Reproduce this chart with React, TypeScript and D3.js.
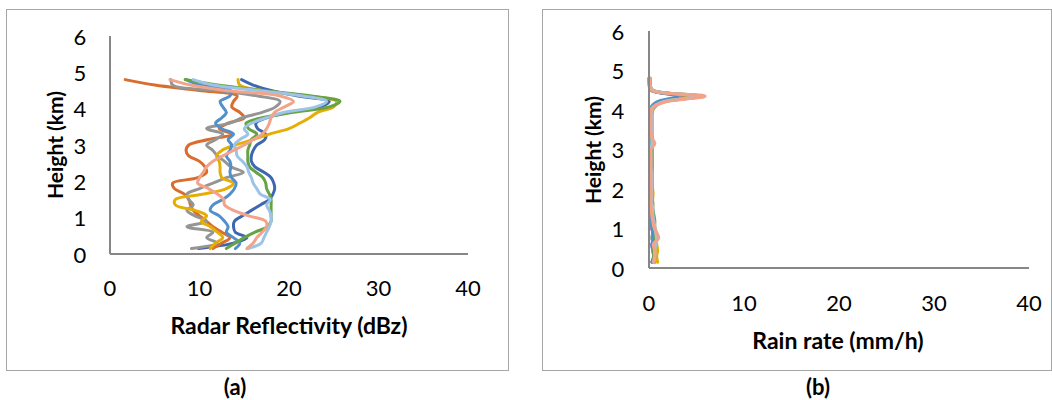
import React from "react";
import * as d3 from "d3";

// Heights (km) shared by all profiles
const heights = [0.15, 0.3, 0.45, 0.6, 0.75, 0.9, 1.05, 1.2, 1.35, 1.5, 1.65, 1.8, 1.95, 2.1, 2.25, 2.4, 2.55, 2.7, 2.85, 3.0, 3.15, 3.3, 3.45, 3.6, 3.75, 3.9, 4.05, 4.2, 4.35, 4.5, 4.65, 4.8];

// Panel (a): radar reflectivity (dBZ)
const zDarkBlue = [9.9, 13.8, 15.3, 14.0, 13.8, 13.9, 14.8, 15.8, 16.8, 17.8, 18.2, 18.4, 18.3, 18.0, 17.2, 16.2, 15.8, 15.8, 16.0, 16.4, 17.3, 17.4, 16.5, 16.3, 17.5, 20.0, 23.5, 24.5, 21.0, 18.0, 16.0, 14.7];
const zOrange = [11.5, 12.5, 13.4, 12.5, 11.5, 10.8, 10.0, 9.3, 9.0, 8.8, 8.3, 7.2, 7.0, 9.8, 10.8, 10.6, 10.0, 8.8, 8.5, 8.8, 11.0, 13.6, 12.2, 13.2, 15.0, 14.5, 13.6, 13.8, 14.2, 10.0, 5.0, 1.7];
const zGray = [9.1, 12.0, 10.8, 11.5, 8.6, 10.8, 9.5, 8.6, 9.3, 8.8, 8.6, 10.0, 11.5, 13.0, 14.9, 13.5, 12.8, 12.0, 11.5, 10.8, 11.8, 12.6, 10.8, 13.4, 14.8, 17.0, 18.5, 19.0, 16.5, 12.0, 7.0, 6.8];
const zGold = [11.2, 11.8, 12.6, 12.0, 11.2, 10.2, 10.8, 9.5, 7.3, 7.3, 10.5, 13.0, 13.8, 12.5, 12.3, 12.3, 12.2, 11.9, 12.5, 14.0, 16.0, 17.8, 20.0, 21.2, 22.3, 23.2, 25.0, 25.3, 22.0, 17.0, 14.5, 14.3];
const zMedBlue = [14.0, 14.5, 13.8, 13.0, 13.2, 12.8, 12.2, 11.2, 11.5, 12.6, 13.4, 13.9, 14.1, 13.6, 13.4, 13.5, 13.4, 13.0, 13.4, 13.6, 13.2, 13.8, 12.5, 11.8, 12.5, 13.0, 12.6, 12.3, 13.4, 13.5, 10.0, 8.5];
const zGreen = [13.0, 14.0, 15.0, 16.2, 17.6, 18.0, 18.0, 18.0, 18.0, 18.0, 17.8, 17.5, 17.4, 17.1, 16.3, 15.6, 15.4, 15.4, 15.4, 15.6, 15.8, 16.4, 15.5, 15.2, 17.0, 20.5, 24.5, 25.7, 22.5, 17.0, 12.0, 8.4];
const zLightBlue = [15.4, 16.9, 17.2, 17.5, 17.8, 18.0, 18.0, 17.8, 17.5, 17.9, 16.8, 16.4, 16.0, 15.8, 15.5, 15.3, 14.8, 14.2, 14.1, 13.9, 14.5, 15.4, 15.0, 15.8, 17.5, 19.5, 23.0, 24.2, 21.5, 16.5, 11.5, 9.3];
const zSalmon = [15.3, 16.0, 16.4, 17.0, 17.5, 17.4, 15.5, 13.8, 12.8, 12.7, 12.0, 11.0, 9.8, 10.0, 10.4, 10.8, 11.5, 12.6, 13.8, 15.0, 16.0, 17.0, 17.5, 17.8, 18.0, 18.4, 19.5, 20.5, 19.0, 13.0, 9.0, 6.7];

// Panel (b): rain rate (mm/h)
const rDarkBlue = [0.3, 0.5, 0.4, 0.3, 0.5, 0.4, 0.3, 0.3, 0.2, 0.2, 0.2, 0.1, 0.1, 0.1, 0.1, 0.1, 0.1, 0.1, 0.1, 0.2, 0.2, 0.3, 0.2, 0.2, 0.1, 0.2, 0.2, 1.2, 4.6, 0.3, 0.1, 0.1];
const rOrange = [0.6, 0.6, 0.7, 0.5, 0.6, 0.4, 0.3, 0.3, 0.2, 0.2, 0.2, 0.2, 0.2, 0.2, 0.2, 0.2, 0.2, 0.2, 0.1, 0.1, 0.2, 0.2, 0.2, 0.2, 0.2, 0.2, 0.5, 1.3, 4.4, 0.3, 0.1, 0.0];
const rGray = [0.4, 0.5, 0.4, 0.5, 0.3, 0.4, 0.3, 0.2, 0.2, 0.2, 0.2, 0.2, 0.2, 0.2, 0.3, 0.2, 0.2, 0.2, 0.2, 0.1, 0.2, 0.2, 0.1, 0.2, 0.2, 0.3, 0.4, 1.0, 3.4, 0.2, 0.0, 0.0];
const rGold = [0.9, 0.8, 0.9, 0.8, 0.7, 0.5, 0.5, 0.4, 0.2, 0.2, 0.3, 0.4, 0.4, 0.3, 0.3, 0.3, 0.3, 0.3, 0.3, 0.3, 0.4, 0.3, 0.3, 0.3, 0.3, 0.3, 0.5, 1.4, 5.0, 0.3, 0.1, 0.1];
const rMedBlue = [0.5, 0.6, 0.5, 0.4, 0.4, 0.4, 0.3, 0.3, 0.3, 0.3, 0.3, 0.3, 0.3, 0.3, 0.3, 0.3, 0.3, 0.3, 0.3, 0.3, 0.3, 0.3, 0.2, 0.2, 0.2, 0.2, 0.2, 0.8, 3.0, 0.3, 0.1, 0.1];
const rGreen = [0.4, 0.5, 0.5, 0.6, 0.7, 0.7, 0.6, 0.6, 0.5, 0.4, 0.4, 0.3, 0.3, 0.3, 0.3, 0.3, 0.3, 0.3, 0.3, 0.3, 0.3, 0.3, 0.3, 0.3, 0.3, 0.3, 0.4, 1.4, 5.4, 0.4, 0.1, 0.1];
const rLightBlue = [0.5, 0.6, 0.6, 0.7, 0.8, 0.7, 0.6, 0.5, 0.4, 0.4, 0.3, 0.3, 0.3, 0.3, 0.3, 0.3, 0.2, 0.2, 0.2, 0.2, 0.3, 0.3, 0.3, 0.3, 0.3, 0.3, 0.4, 1.4, 5.3, 0.4, 0.1, 0.1];
const rSalmon = [0.5, 0.6, 0.6, 0.45, 1.0, 0.8, 0.5, 0.4, 0.3, 0.25, 0.2, 0.2, 0.2, 0.2, 0.2, 0.2, 0.2, 0.2, 0.2, 0.2, 0.6, 0.3, 0.2, 0.2, 0.2, 0.2, 0.3, 1.6, 5.9, 0.3, 0.1, 0.1];

const seriesColors = ["#3F67B1", "#DA6C2C", "#959595", "#E6AE05", "#5290CC", "#66A342", "#9DC3E6", "#F2A48A"];
const reflectivitySeries = [zDarkBlue, zOrange, zGray, zGold, zMedBlue, zGreen, zLightBlue, zSalmon];
const rainSeries = [rDarkBlue, rOrange, rGray, rGold, rMedBlue, rGreen, rLightBlue, rSalmon];

const xTicks = [0, 10, 20, 30, 40];
const yTicks = [0, 1, 2, 3, 4, 5, 6];

const FONT = "Lato, 'Open Sans', sans-serif";

type PanelProps = {
  box: [number, number, number, number];
  plot: { x0: number; x1: number; y0: number; y1: number };
  series: number[][];
  xTitle: string;
  xTitlePos: [number, number];
  yTitlePos: [number, number];
  label: string;
  labelPos: [number, number];
  yTickX: number;
  xTickY: number;
  strokeW: number;
};

function Panel(p: PanelProps) {
  const x = d3.scaleLinear().domain([0, 40]).range([p.plot.x0, p.plot.x1]);
  const y = d3.scaleLinear().domain([0, 6]).range([p.plot.y0, p.plot.y1]);
  const line = d3
    .line<[number, number]>()
    .x((d) => x(d[0]))
    .y((d) => y(d[1]))
    .curve(d3.curveCatmullRom.alpha(0.5));
  const [bx, by, bw, bh] = p.box;
  return (
    <g>
      <rect x={bx + 0.5} y={by + 0.5} width={bw} height={bh} fill="#fff" stroke="#A6A6A6" strokeWidth={1} />
      {p.series.map((vals, i) => (
        <path
          key={i}
          d={line(vals.map((v, j) => [v, heights[j]] as [number, number])) || ""}
          fill="none"
          stroke={seriesColors[i]}
          strokeWidth={p.strokeW}
          strokeLinejoin="round"
          strokeLinecap="round"
        />
      ))}
      <line x1={x(0)} x2={x(0)} y1={y(0)} y2={y(6)} stroke="#878787" strokeWidth={2} />
      <line x1={x(0)} x2={x(40)} y1={y(0)} y2={y(0)} stroke="#878787" strokeWidth={2} />
      {yTicks.map((t) => (
        <text key={"y" + t} x={p.yTickX} y={y(t)} textAnchor="middle" dominantBaseline="central" fontFamily={FONT} fontSize={22} fill="#000">
          {t}
        </text>
      ))}
      {xTicks.map((t) => (
        <text key={"x" + t} x={x(t)} y={p.xTickY} textAnchor="middle" dominantBaseline="central" fontFamily={FONT} fontSize={22} fill="#000">
          {t}
        </text>
      ))}
      <text x={p.xTitlePos[0]} y={p.xTitlePos[1]} textAnchor="middle" dominantBaseline="central" fontFamily={FONT} fontSize={23} fontWeight="bold" fill="#000">
        {p.xTitle}
      </text>
      <text
        transform={`translate(${p.yTitlePos[0]},${p.yTitlePos[1]}) rotate(-90)`}
        textAnchor="middle"
        dominantBaseline="central"
        fontFamily={FONT}
        fontSize={21}
        fontWeight="bold"
        fill="#000"
      >
        Height (km)
      </text>
      <text x={p.labelPos[0]} y={p.labelPos[1]} textAnchor="middle" dominantBaseline="central" fontFamily={FONT} fontSize={22} fontWeight="bold" fill="#000">
        {p.label}
      </text>
    </g>
  );
}

export default function App() {
  return (
    <div style={{ position: "absolute", left: 0, top: 0 }}>
      <svg width={1052} height={400} style={{ display: "block", background: "#fff" }}>
        <rect x={0} y={0} width={1052} height={400} fill="#fff" />
        <Panel
          box={[6, 9, 502, 361]}
          plot={{ x0: 110, x1: 468, y0: 254, y1: 36 }}
          series={reflectivitySeries}
          xTitle="Radar Reflectivity (dBz)"
          xTitlePos={[289, 325]}
          yTitlePos={[54, 145]}
          label="(a)"
          labelPos={[235, 386]}
          yTickX={80}
          xTickY={287}
          strokeW={3}
        />
        <Panel
          box={[542, 9, 509, 361]}
          plot={{ x0: 649, x1: 1029, y0: 268, y1: 31 }}
          series={rainSeries}
          xTitle="Rain rate (mm/h)"
          xTitlePos={[838, 340]}
          yTitlePos={[592, 150]}
          label="(b)"
          labelPos={[818, 386]}
          yTickX={618}
          xTickY={302}
          strokeW={3.2}
        />
      </svg>
    </div>
  );
}
